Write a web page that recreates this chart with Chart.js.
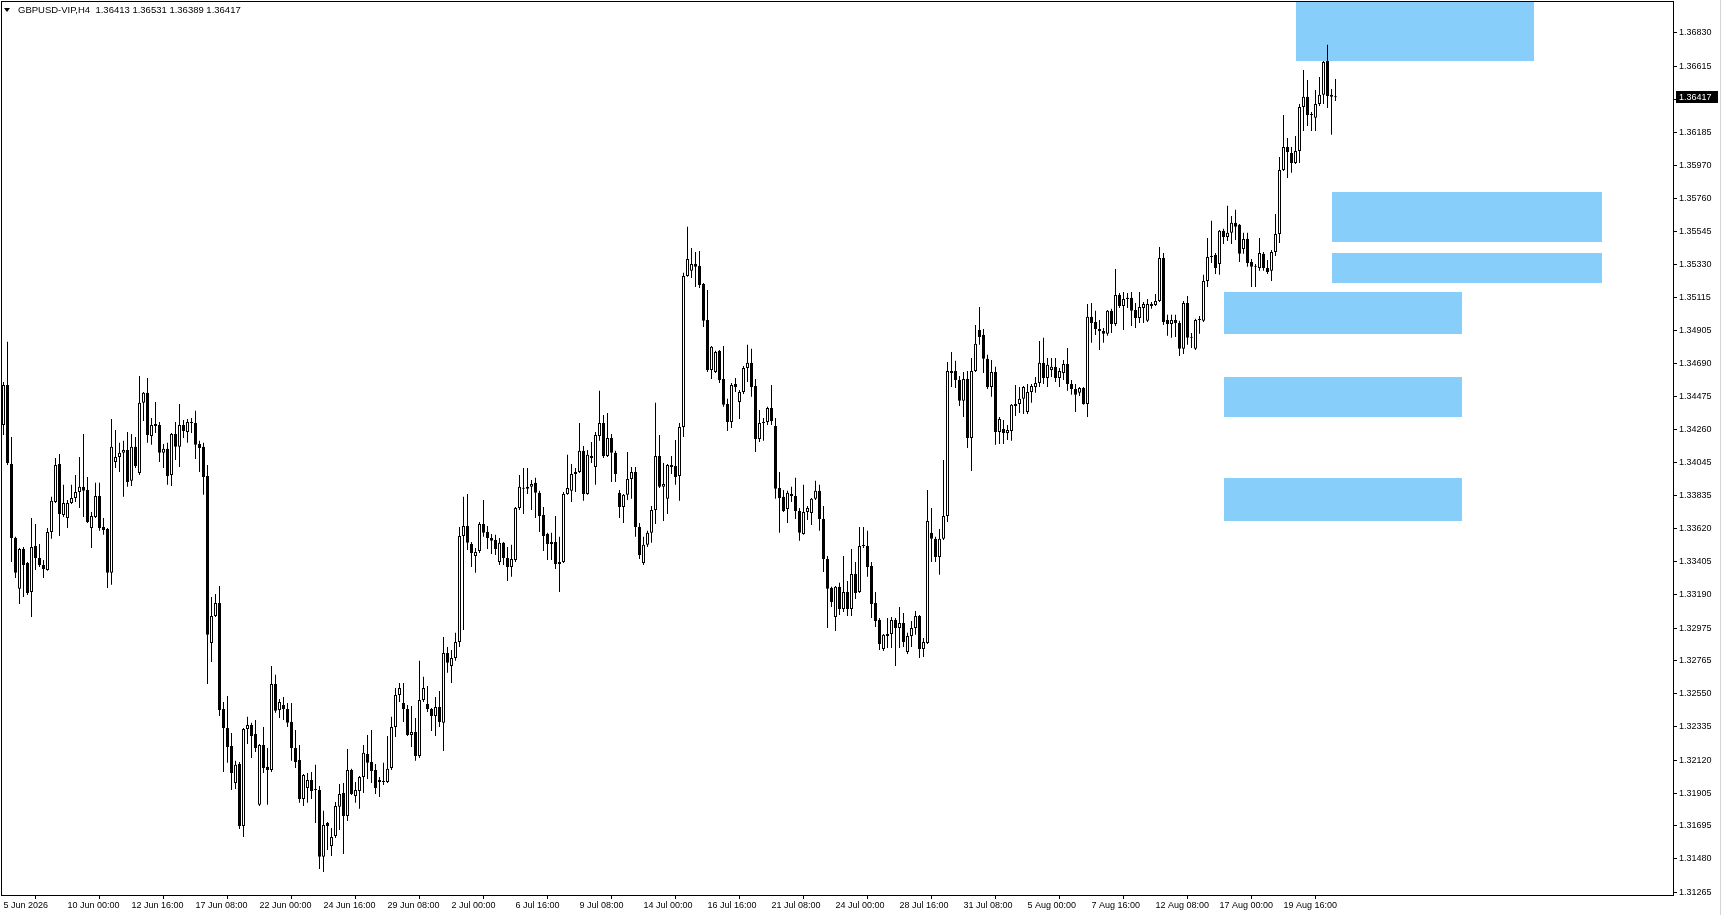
<!DOCTYPE html>
<html>
<head>
<meta charset="utf-8">
<title>GBPUSD-VIP,H4</title>
<script src="https://cdn.jsdelivr.net/npm/chart.js@4.4.1/dist/chart.umd.min.js"></script>
<style>
  html, body { margin: 0; padding: 0; background: #fff; }
  #wrap { width: 1722px; height: 915px; position: relative; }
</style>
</head>
<body>
<div id="wrap"><canvas id="chart" width="1722" height="915"></canvas></div>
<script>
// GBPUSD H4 bars, 5 Jun 2026 08:00 .. 21 Aug 2026
const symbol = 'GBPUSD-VIP,H4';

const opens = [
  1.34291,1.34550,1.34038,1.33559,1.33229,1.33488,1.33397,1.33209,1.33507,1.33429,
  1.33384,1.33352,1.33598,1.33792,1.34038,1.33708,1.33688,1.33786,1.33818,1.33857,
  1.33890,1.33870,1.33623,1.33695,1.33831,1.33630,1.33617,1.33333,1.34051,1.34084,
  1.34110,1.34129,1.33929,1.34149,1.33980,1.34434,1.34499,1.34219,1.34284,1.34291,
  1.34110,1.34136,1.33967,1.34232,1.34149,1.34291,1.34245,1.34310,1.34304,1.34168,
  1.34149,1.33960,1.32879,1.33053,1.33138,1.32451,1.32328,1.32211,1.31972,1.32095,
  1.31693,1.32322,1.32348,1.32289,1.31830,1.32218,1.32076,1.32056,1.32613,1.32445,
  1.32477,1.32451,1.32367,1.32198,1.32121,1.31868,1.31939,1.31991,1.31926,1.31926,
  1.31493,1.31713,1.31564,1.31628,1.31817,1.31907,1.31758,1.32056,1.31887,1.31920,
  1.32011,1.32160,1.32108,1.32056,1.31991,1.31978,1.31978,1.32069,1.32335,1.32542,
  1.32490,1.32451,1.32283,1.32302,1.32147,1.32509,1.32483,1.32451,1.32406,1.32464,
  1.32361,1.32814,1.32730,1.32781,1.32885,1.33572,1.33636,1.33520,1.33442,1.33475,
  1.33649,1.33598,1.33559,1.33546,1.33403,1.33527,1.33429,1.33371,1.33416,1.33753,
  1.33883,1.33877,1.33890,1.33916,1.33851,1.33708,1.33585,1.33533,1.33533,1.33390,
  1.33403,1.33844,1.33864,1.33973,1.33986,1.34123,1.33844,1.34090,1.34019,1.34219,
  1.34304,1.34090,1.34206,1.34110,1.33851,1.33760,1.33838,1.33941,1.33986,1.33630,
  1.33397,1.33514,1.33592,1.33740,1.34090,1.33890,1.33812,1.34032,1.34025,1.33960,
  1.34278,1.35256,1.35289,1.35334,1.35321,1.35204,1.34971,1.34647,1.34634,1.34771,
  1.34588,1.34427,1.34310,1.34556,1.34440,1.34505,1.34660,1.34693,1.34543,1.34200,
  1.34304,1.34310,1.34401,1.34284,1.33883,1.33825,1.33747,1.33844,1.33831,1.33734,
  1.33585,1.33727,1.33721,1.33812,1.33864,1.33682,1.33423,1.33235,1.33047,1.33242,
  1.33099,1.33209,1.33099,1.33326,1.33209,1.33507,1.33507,1.33377,1.33138,1.33028,
  1.32840,1.32924,1.32937,1.33028,1.32976,1.33008,1.32820,1.32924,1.32976,1.33053,
  1.32840,1.32879,1.33592,1.33553,1.33436,1.33553,1.33701,1.34641,1.34641,1.34582,
  1.34447,1.34588,1.34206,1.34641,1.34906,1.34874,1.34719,1.34537,1.34634,1.34245,
  1.34265,1.34239,1.34252,1.34414,1.34427,1.34460,1.34375,1.34505,1.34537,1.34563,
  1.34693,1.34595,1.34647,1.34667,1.34595,1.34628,1.34686,1.34556,1.34524,1.34499,
  1.34530,1.34427,1.34991,1.34958,1.34913,1.34900,1.34881,1.35030,1.34945,1.35133,
  1.35062,1.35114,1.35114,1.35036,1.34984,1.35049,1.34965,1.35062,1.35068,1.35094,
  1.35373,1.34971,1.34945,1.34971,1.34952,1.34784,1.35081,1.34861,1.34784,1.34971,
  1.34965,1.35224,1.35386,1.35392,1.35334,1.35548,1.35509,1.35535,1.35600,1.35587,
  1.35431,1.35496,1.35347,1.35315,1.35308,1.35399,1.35308,1.35289,1.35411,1.35528,
  1.35943,1.36092,1.36053,1.35988,1.36066,1.36351,1.36416,1.36299,1.36280,1.36370,
  1.36429,1.36649,1.36429,1.36413
];

const highs = [
  1.34569,1.34829,1.34213,1.33566,1.33494,1.33501,1.33403,1.33688,1.33649,1.33520,
  1.33416,1.33623,1.33825,1.34077,1.34103,1.33903,1.33805,1.33903,1.33967,1.34084,
  1.34232,1.33954,1.33727,1.33916,1.33916,1.33688,1.33623,1.34330,1.34258,1.34175,
  1.34188,1.34245,1.34232,1.34213,1.34608,1.34505,1.34595,1.34336,1.34440,1.34310,
  1.34168,1.34175,1.34239,1.34310,1.34427,1.34323,1.34330,1.34336,1.34382,1.34188,
  1.34175,1.34032,1.33177,1.33196,1.33248,1.32496,1.32535,1.32296,1.32115,1.32108,
  1.32328,1.32400,1.32361,1.32380,1.32224,1.32335,1.32198,1.32730,1.32672,1.32516,
  1.32529,1.32490,1.32490,1.32315,1.32218,1.32030,1.32037,1.32043,1.32089,1.31952,
  1.31791,1.31719,1.31680,1.31849,1.31965,1.31972,1.32192,1.32063,1.31978,1.32017,
  1.32218,1.32283,1.32315,1.32095,1.32011,1.32102,1.32276,1.32400,1.32587,1.32620,
  1.32620,1.32477,1.32470,1.32393,1.32763,1.32659,1.32600,1.32457,1.32529,1.32568,
  1.32917,1.32853,1.32833,1.32944,1.33630,1.33825,1.33844,1.33533,1.33494,1.33662,
  1.33805,1.33636,1.33585,1.33579,1.33559,1.33533,1.33501,1.33514,1.33760,1.33967,
  1.34012,1.34012,1.33935,1.33948,1.33864,1.33760,1.33592,1.33592,1.33701,1.33566,
  1.33857,1.34097,1.34038,1.34012,1.34304,1.34155,1.34129,1.34181,1.34245,1.34512,
  1.34356,1.34369,1.34232,1.34123,1.33870,1.33844,1.34116,1.34019,1.34019,1.33656,
  1.33566,1.33605,1.33766,1.34434,1.34226,1.34045,1.34038,1.34090,1.34194,1.34304,
  1.35276,1.35574,1.35437,1.35411,1.35418,1.35211,1.35165,1.34803,1.34771,1.34777,
  1.34803,1.34460,1.34563,1.34595,1.34518,1.34673,1.34810,1.34784,1.34588,1.34388,
  1.34336,1.34408,1.34550,1.34336,1.33986,1.33870,1.33864,1.33890,1.33948,1.33753,
  1.33903,1.33766,1.33818,1.33929,1.33903,1.33766,1.33442,1.33242,1.33248,1.33268,
  1.33442,1.33280,1.33488,1.33403,1.33630,1.33630,1.33605,1.33403,1.33209,1.33040,
  1.32937,1.33040,1.33047,1.33040,1.33112,1.33073,1.32944,1.33021,1.33086,1.33060,
  1.32911,1.33870,1.33753,1.33566,1.33617,1.34064,1.34699,1.34764,1.34706,1.34608,
  1.34634,1.34641,1.34725,1.34939,1.35055,1.34913,1.34745,1.34712,1.34667,1.34343,
  1.34323,1.34291,1.34427,1.34550,1.34537,1.34543,1.34556,1.34556,1.34602,1.34835,
  1.34855,1.34725,1.34725,1.34725,1.34660,1.34712,1.34790,1.34582,1.34556,1.34537,
  1.34537,1.35075,1.35081,1.35030,1.34971,1.34919,1.35036,1.35043,1.35301,1.35146,
  1.35152,1.35146,1.35152,1.35081,1.35152,1.35088,1.35107,1.35088,1.35139,1.35444,
  1.35405,1.35004,1.35004,1.35004,1.34965,1.35094,1.35126,1.34887,1.34978,1.34997,
  1.35263,1.35502,1.35613,1.35405,1.35554,1.35561,1.35710,1.35645,1.35684,1.35593,
  1.35535,1.35535,1.35366,1.35334,1.35502,1.35411,1.35360,1.35424,1.35658,1.36027,
  1.36299,1.36150,1.36092,1.36163,1.36370,1.36590,1.36526,1.36318,1.36461,1.36545,
  1.36649,1.36753,1.36467,1.36531
];

const lows = [
  1.34226,1.34032,1.33403,1.33300,1.33131,1.33177,1.33190,1.33047,1.33352,1.33371,
  1.33300,1.33346,1.33553,1.33786,1.33572,1.33695,1.33623,1.33779,1.33792,1.33753,
  1.33695,1.33656,1.33494,1.33688,1.33605,1.33579,1.33235,1.33255,1.34012,1.33986,
  1.33825,1.33890,1.33896,1.34012,1.33967,1.34317,1.34175,1.34162,1.34239,1.34051,
  1.34012,1.33903,1.33896,1.34064,1.34019,1.34206,1.34175,1.34239,1.34071,1.33986,
  1.33838,1.32613,1.32756,1.33047,1.32406,1.32043,1.32102,1.31926,1.31933,1.31674,
  1.31622,1.32224,1.32134,1.32173,1.31823,1.32037,1.31830,1.32043,1.32426,1.32393,
  1.32380,1.32335,1.32115,1.32069,1.31843,1.31823,1.31843,1.31868,1.31713,1.31415,
  1.31395,1.31538,1.31499,1.31615,1.31667,1.31512,1.31726,1.31894,1.31843,1.31804,
  1.31907,1.31998,1.31972,1.31900,1.31881,1.31959,1.31972,1.32056,1.32270,1.32496,
  1.32367,1.32276,1.32205,1.32115,1.32134,1.32496,1.32432,1.32309,1.32276,1.32335,
  1.32179,1.32685,1.32620,1.32763,1.32853,1.32963,1.33481,1.33371,1.33333,1.33462,
  1.33566,1.33488,1.33455,1.33449,1.33384,1.33384,1.33280,1.33307,1.33403,1.33740,
  1.33714,1.33844,1.33740,1.33688,1.33598,1.33475,1.33416,1.33416,1.33358,1.33209,
  1.33397,1.33838,1.33792,1.33857,1.33980,1.33799,1.33838,1.34045,1.33903,1.34188,
  1.34077,1.34084,1.33922,1.33922,1.33688,1.33656,1.33805,1.33812,1.33566,1.33423,
  1.33384,1.33501,1.33527,1.33649,1.33883,1.33669,1.33714,1.33973,1.33903,1.33799,
  1.34213,1.35250,1.35243,1.35185,1.35178,1.34926,1.34634,1.34588,1.34628,1.34563,
  1.34408,1.34252,1.34271,1.34505,1.34330,1.34492,1.34569,1.34473,1.34116,1.34181,
  1.34188,1.34291,1.34291,1.33812,1.33592,1.33727,1.33656,1.33792,1.33682,1.33540,
  1.33579,1.33675,1.33643,1.33805,1.33605,1.33339,1.32976,1.33112,1.32956,1.33060,
  1.33079,1.33053,1.33053,1.33164,1.33203,1.33494,1.33307,1.33040,1.32982,1.32833,
  1.32827,1.32846,1.32846,1.32730,1.32846,1.32853,1.32807,1.32853,1.32931,1.32781,
  1.32788,1.32872,1.33403,1.33403,1.33320,1.33546,1.33662,1.34537,1.34530,1.34414,
  1.34343,1.34142,1.33993,1.34634,1.34810,1.34628,1.34524,1.34473,1.34162,1.34168,
  1.34168,1.34194,1.34188,1.34349,1.34369,1.34362,1.34362,1.34434,1.34499,1.34537,
  1.34556,1.34537,1.34602,1.34569,1.34537,1.34582,1.34512,1.34486,1.34375,1.34479,
  1.34421,1.34343,1.34823,1.34874,1.34777,1.34823,1.34868,1.34887,1.34932,1.35049,
  1.34906,1.35049,1.34932,1.34919,1.34952,1.34952,1.34958,1.35043,1.35062,1.35088,
  1.34939,1.34868,1.34855,1.34861,1.34738,1.34751,1.34810,1.34790,1.34777,1.34881,
  1.34958,1.35185,1.35340,1.35269,1.35263,1.35463,1.35483,1.35463,1.35489,1.35347,
  1.35399,1.35315,1.35185,1.35185,1.35289,1.35289,1.35269,1.35224,1.35386,1.35470,
  1.35936,1.35891,1.35924,1.35981,1.35988,1.36195,1.36228,1.36195,1.36195,1.36357,
  1.36370,1.36344,1.36170,1.36389
];

const closes = [
  1.34550,1.34045,1.33559,1.33333,1.33488,1.33384,1.33203,1.33501,1.33429,1.33384,
  1.33358,1.33598,1.33799,1.34032,1.33714,1.33786,1.33786,1.33818,1.33857,1.33890,
  1.33864,1.33662,1.33701,1.33831,1.33623,1.33611,1.33333,1.34149,1.34084,1.34110,
  1.34129,1.33922,1.34149,1.34025,1.34434,1.34499,1.34226,1.34291,1.34297,1.34110,
  1.34136,1.33960,1.34232,1.34149,1.34291,1.34252,1.34310,1.34304,1.34162,1.34142,
  1.33954,1.32931,1.33053,1.33138,1.32445,1.32328,1.32205,1.32037,1.32089,1.31693,
  1.32322,1.32348,1.32276,1.32198,1.32218,1.32069,1.32056,1.32613,1.32439,1.32496,
  1.32451,1.32361,1.32198,1.32108,1.31868,1.32024,1.31991,1.31920,1.31926,1.31493,
  1.31700,1.31693,1.31622,1.31823,1.31900,1.31758,1.32056,1.31900,1.31926,1.32011,
  1.32167,1.32102,1.32050,1.31939,1.31978,1.31985,1.32063,1.32335,1.32542,1.32587,
  1.32451,1.32283,1.32302,1.32147,1.32509,1.32587,1.32451,1.32406,1.32464,1.32367,
  1.32814,1.32750,1.32781,1.32885,1.33572,1.33636,1.33527,1.33462,1.33468,1.33649,
  1.33592,1.33559,1.33540,1.33488,1.33527,1.33429,1.33371,1.33423,1.33753,1.33890,
  1.33877,1.33890,1.33909,1.33851,1.33701,1.33572,1.33520,1.33520,1.33390,1.33403,
  1.33844,1.33883,1.33973,1.33986,1.34123,1.33844,1.34097,1.34077,1.34226,1.34304,
  1.34090,1.34206,1.34110,1.33973,1.33760,1.33838,1.33941,1.33986,1.33630,1.33449,
  1.33514,1.33592,1.33740,1.34090,1.33890,1.33909,1.34032,1.34019,1.33954,1.34278,
  1.35256,1.35366,1.35334,1.35315,1.35198,1.34965,1.34647,1.34797,1.34764,1.34582,
  1.34421,1.34310,1.34550,1.34537,1.34505,1.34660,1.34693,1.34537,1.34200,1.34304,
  1.34310,1.34401,1.34317,1.33877,1.33818,1.33734,1.33851,1.33831,1.33734,1.33592,
  1.33727,1.33753,1.33812,1.33864,1.33682,1.33423,1.33229,1.33144,1.33242,1.33099,
  1.33209,1.33099,1.33326,1.33203,1.33507,1.33507,1.33371,1.33131,1.33021,1.32872,
  1.32931,1.32937,1.33028,1.32976,1.33008,1.32885,1.32924,1.32976,1.33053,1.32840,
  1.32885,1.33669,1.33553,1.33436,1.33553,1.33701,1.34641,1.34628,1.34582,1.34447,
  1.34588,1.34206,1.34641,1.34816,1.34861,1.34719,1.34537,1.34634,1.34245,1.34330,
  1.34239,1.34258,1.34421,1.34427,1.34460,1.34537,1.34505,1.34543,1.34563,1.34693,
  1.34595,1.34680,1.34667,1.34595,1.34641,1.34686,1.34556,1.34524,1.34486,1.34530,
  1.34427,1.34991,1.34952,1.34913,1.34900,1.34881,1.35030,1.34945,1.35133,1.35062,
  1.35107,1.35107,1.35030,1.34984,1.35055,1.35075,1.35075,1.35075,1.35094,1.35373,
  1.34958,1.34945,1.34971,1.34952,1.34784,1.35081,1.34855,1.34855,1.34971,1.34971,
  1.35224,1.35379,1.35379,1.35308,1.35548,1.35509,1.35535,1.35600,1.35574,1.35399,
  1.35496,1.35340,1.35315,1.35315,1.35405,1.35308,1.35282,1.35411,1.35528,1.35943,
  1.36092,1.36059,1.35988,1.36066,1.36351,1.36416,1.36299,1.36299,1.36370,1.36429,
  1.36642,1.36422,1.36416,1.36417
];

// time axis: bar index of each label and its text
const labelBars = [0, 16, 32, 48, 64, 80, 96, 112, 128, 144, 160, 176, 192, 208, 224, 240, 256, 272, 288, 304, 320];
const timeLabels = [
  '5 Jun 2026', '10 Jun 00:00', '12 Jun 16:00', '17 Jun 08:00', '22 Jun 00:00', '24 Jun 16:00',
  '29 Jun 08:00', '2 Jul 00:00', '6 Jul 16:00', '9 Jul 08:00', '14 Jul 00:00', '16 Jul 16:00',
  '21 Jul 08:00', '24 Jul 00:00', '28 Jul 16:00', '31 Jul 08:00', '5 Aug 00:00', '7 Aug 16:00',
  '12 Aug 08:00', '17 Aug 00:00', '19 Aug 16:00'
];

// price axis labels
const priceTicks = [
  1.36830, 1.36615, 1.36400, 1.36185, 1.35970, 1.35760, 1.35545, 1.35330, 1.35115,
  1.34905, 1.34690, 1.34475, 1.34260, 1.34045, 1.33835, 1.33620, 1.33405, 1.33190,
  1.32975, 1.32765, 1.32550, 1.32335, 1.32120, 1.31905, 1.31695, 1.31480, 1.31265
];

// supply / demand rectangles (bar index from..to, price top..bottom)
const zoneFrom   = [323, 332, 332, 305, 305, 305];
const zoneTo     = [382.6, 399.6, 399.6, 364.6, 364.6, 364.6];
const zoneTop    = [1.37100, 1.35800, 1.35405, 1.35152, 1.34602, 1.33947];
const zoneBottom = [1.36650, 1.35476, 1.35211, 1.34880, 1.34343, 1.33669];

const FONT = '"Liberation Sans", Arial, sans-serif';

const wickData = opens.map((o, i) => ({ x: i, y: [lows[i], highs[i]] }));
const bodyData = opens.map((o, i) => ({ x: i, y: [o, closes[i]] }));

const zonesPlugin = {
  id: 'zones',
  beforeDatasetsDraw(chart) {
    const { ctx, chartArea: a, scales: { x, y } } = chart;
    ctx.save();
    ctx.beginPath();
    ctx.rect(a.left, a.top, a.right - a.left, a.bottom - a.top);
    ctx.clip();
    ctx.fillStyle = '#87cefa';
    zoneFrom.forEach((from, i) => {
      const x0 = Math.round(x.getPixelForValue(from));
      const x1 = Math.round(x.getPixelForValue(zoneTo[i]));
      const y0 = Math.round(y.getPixelForValue(zoneTop[i]));
      const y1 = Math.round(y.getPixelForValue(zoneBottom[i]));
      ctx.fillRect(x0, y0, x1 - x0, y1 - y0);
    });
    ctx.restore();
  }
};

const framePlugin = {
  id: 'frame',
  afterDraw(chart) {
    const { ctx, chartArea: a, scales: { y } } = chart;
    ctx.save();
    // chart frame
    ctx.strokeStyle = '#000';
    ctx.lineWidth = 1;
    ctx.strokeRect(a.left + 0.5, a.top + 0.5, a.right - a.left, a.bottom - a.top);

    // header
    ctx.fillStyle = '#000';
    ctx.beginPath();
    ctx.moveTo(4, 8); ctx.lineTo(10, 8); ctx.lineTo(7, 12); ctx.closePath();
    ctx.fill();
    ctx.font = '9.5px ' + FONT;
    ctx.textBaseline = 'middle';
    ctx.textAlign = 'left';
    const last = closes.length - 1;
    const fmt = v => v.toFixed(5);
    ctx.fillText(symbol + '  ' + [opens[last], highs[last], lows[last], closes[last]].map(fmt).join(' '), 18, 10.5);

    // current price label on the axis
    ctx.font = '9px ' + FONT;
    const py = Math.round(y.getPixelForValue(closes[last]));
    ctx.fillRect(a.right + 3, py - 6, 42, 12);
    ctx.fillStyle = '#fff';
    ctx.fillText(fmt(closes[last]), a.right + 6, py + 0.5);

    // window edge
    ctx.fillStyle = '#d4d4d4';
    ctx.fillRect(1720, 0, 1, 915);
    ctx.restore();
  }
};

new Chart(document.getElementById('chart'), {
  type: 'bar',
  data: {
    datasets: [
      {
        label: 'wick',
        data: wickData,
        order: 2,
        backgroundColor: '#000',
        borderWidth: 0,
        barThickness: 1,
        grouped: false,
        inflateAmount: 0
      },
      {
        label: 'body',
        data: bodyData,
        order: 1,
        backgroundColor: c => (closes[c.dataIndex] >= opens[c.dataIndex] ? '#fff' : '#000'),
        borderColor: '#000',
        borderWidth: 1,
        borderSkipped: false,
        barThickness: 3,
        minBarLength: 1,
        grouped: false,
        inflateAmount: 0
      }
    ]
  },
  options: {
    responsive: false,
    animation: false,
    devicePixelRatio: 1,
    events: [],
    layout: { padding: { left: 1, top: 1, right: 0, bottom: 0 } },
    plugins: { legend: { display: false }, tooltip: { enabled: false } },
    scales: {
      x: {
        type: 'linear',
        min: -0.625,
        max: 417.375,
        offset: false,
        afterBuildTicks: s => { s.ticks = labelBars.map(v => ({ value: v })); },
        afterFit: s => { s.height = 20; s.paddingLeft = 0; s.paddingRight = 0; },
        grid: { drawOnChartArea: false, drawTicks: true, tickLength: 4, color: '#000' },
        border: { display: false },
        ticks: {
          autoSkip: false,
          maxRotation: 0,
          align: 'start',
          padding: 1,
          color: '#000',
          font: { family: FONT, size: 9 },
          callback: (v, i) => timeLabels[i]
        }
      },
      y: {
        type: 'linear',
        position: 'right',
        min: 1.31246,
        max: 1.37037,
        afterBuildTicks: s => { s.ticks = priceTicks.map(v => ({ value: v })); },
        afterFit: s => { s.width = 49; s.paddingTop = 0; s.paddingBottom = 0; },
        grid: { drawOnChartArea: false, drawTicks: true, tickLength: 4, color: '#000' },
        border: { display: false },
        ticks: {
          autoSkip: false,
          padding: 2,
          color: '#000',
          font: { family: FONT, size: 9 },
          callback: v => v.toFixed(5)
        }
      }
    }
  },
  plugins: [zonesPlugin, framePlugin]
});
</script>
</body>
</html>
